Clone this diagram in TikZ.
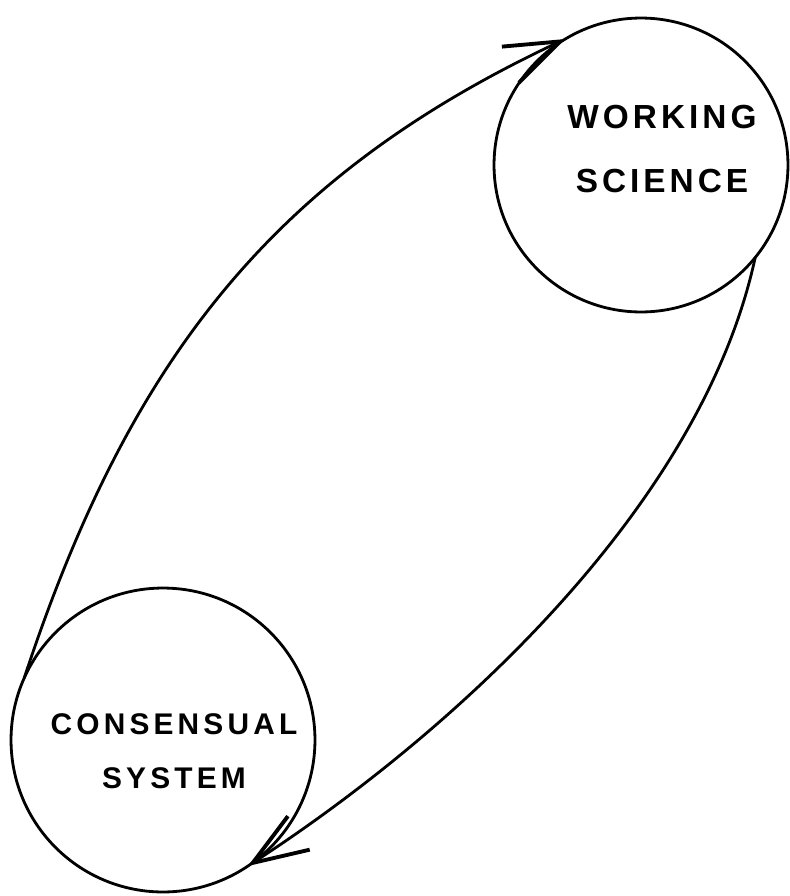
\documentclass[tikz,border=0pt]{standalone}
\usepackage{fontspec}
\setmainfont{Liberation Sans}
\usetikzlibrary{arrows.meta}

\begin{document}
\begin{tikzpicture}[x=0.02cm, y=-0.02cm, line width=1.6pt, >={Straight Barb[length=11mm, width=8mm, line width=2.2pt]}, ring/.style={draw, circle, inner sep=0pt, outer sep=0pt}, hand/.style={align=center, font={\addfontfeatures{LetterSpace=12}\fontsize{19}{36}\selectfont\bfseries}}]
	\useasboundingbox (0,0) rectangle (789,896);
	\node[ring, minimum size=5.88cm] (ws) at (641,165) {};
	\node[ring, minimum size=6.08cm] (cs) at (163,740) {};
	\node[hand] (wstext) at (662,149) {WORKING\\SCIENCE};
	\node[hand, font={\addfontfeatures{LetterSpace=14}\fontsize{17}{31}\selectfont\bfseries}] (cstext) at (174,751) {CONSENSUAL\\SYSTEM};
	\draw[->] (cs.156) .. controls (130,357) and (275,175) .. (ws.121);
	\draw[->] (ws.-39) .. controls (702,504) and (457,730) .. (cs.-56);
\end{tikzpicture}
\end{document}
